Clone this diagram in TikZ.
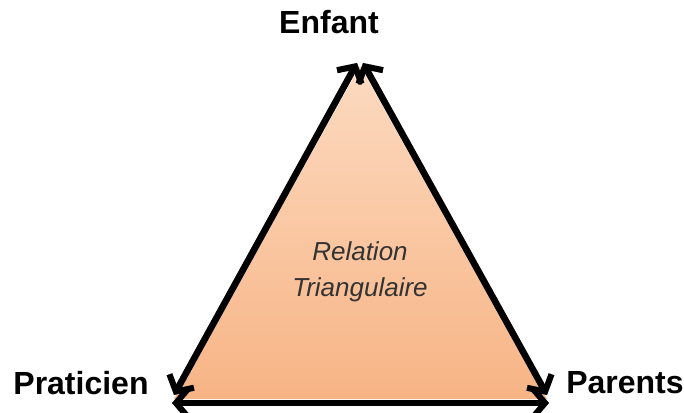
\documentclass[tikz,border=0pt]{standalone}
\usepackage{fontspec}
\setmainfont{Liberation Sans}
\usetikzlibrary{arrows.meta}
\definecolor{topc}{HTML}{FCDAC0}
\definecolor{botc}{HTML}{F7B485}
\definecolor{txtc}{HTML}{333333}
\tikzset{
  edgearrow/.style={line width=6.5pt, {Straight Barb[length=12pt,width=28pt,line width=6pt]}-{Straight Barb[length=12pt,width=28pt,line width=6pt]}},
  shadowarrow/.style={edgearrow, draw=black!35},
  label/.style={font=\bfseries\fontsize{32}{36}\selectfont, inner sep=0pt},
}
\begin{document}
\begin{tikzpicture}[x=1pt,y=1pt]
\useasboundingbox (0,0) rectangle (684,412);
% triangle fill
\coordinate (A) at (360,346);
\coordinate (B) at (174,13);
\coordinate (C) at (547,13);
\shade[top color=topc, bottom color=botc] (A) -- (C) -- (B) -- cycle;
% arrow ends
\coordinate (Atl) at (357,349);
\coordinate (Atr) at (363,349);
\coordinate (Bl) at (174,17);
\coordinate (Bb) at (172,9);
\coordinate (Cr) at (547,17);
\coordinate (Cb) at (549,9);
% shadows
\begin{scope}[shift={(2pt,-2pt)}]
\draw[shadowarrow] (Atl) -- (Bl);
\draw[shadowarrow] (Atr) -- (Cr);
\draw[shadowarrow] (Bb) -- (Cb);
\end{scope}
\draw[edgearrow] (Atl) -- (Bl);
\draw[edgearrow] (Atr) -- (Cr);
\draw[edgearrow] (Bb) -- (Cb);
% labels
\node[label] (enfant) at (329,390) {Enfant};
\node[label] (praticien) at (81,29) {Praticien};
\node[label] (parents) at (625,29) {Parents};
\node[align=center, text=txtc, font=\itshape\fontsize{26}{36}\selectfont] (rel) at (360,140) {Relation\\Triangulaire};
\end{tikzpicture}
\end{document}
